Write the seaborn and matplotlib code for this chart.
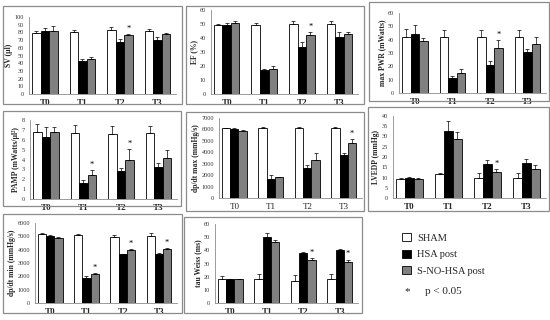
import numpy as np
import pandas as pd
import matplotlib
matplotlib.use("Agg")
import matplotlib.pyplot as plt
import seaborn as sns
from matplotlib.patches import Rectangle, Patch

sns.set_style("white")
plt.rcParams['font.family'] = ['Liberation Serif', 'DejaVu Serif']

times = ["T0", "T1", "T2", "T3"]
groups = ["SHAM", "HSA post", "S-NO-HSA post"]
colors = ["#ffffff", "#000000", "#808080"]

# values per panel: rows = groups (SHAM, HSA, S-NO-HSA), cols = T0..T3
sv_mean = [[79, 80, 83, 82], [82, 43, 68, 70], [82, 45, 76, 78]]
sv_err = [[3, 3, 4, 3], [4, 3, 3, 4], [6, 3, 2, 1]]
sv_star = [[], [], [2]]

ef_mean = [[49, 49, 50, 50], [49.5, 17, 33.5, 40.5], [51, 18, 42, 43]]
ef_err = [[1, 2, 2.5, 2], [1, 1, 4, 3.5], [1, 2, 2, 1.5]]
ef_star = [[], [], [2]]

pwr_mean = [[42, 42, 42, 42], [44, 11, 21, 31], [39, 15, 34, 37]]
pwr_err = [[6, 5, 5, 5], [7, 2, 3, 2], [2, 3, 6, 5]]
pwr_star = [[], [], [2]]

pamp_mean = [[6.8, 6.7, 6.55, 6.7], [6.3, 1.65, 2.8, 3.2], [6.8, 2.4, 4.0, 4.15]]
pamp_err = [[0.8, 0.8, 0.8, 0.7], [1.0, 0.3, 0.3, 0.4], [0.5, 0.5, 1.1, 0.8]]
pamp_star = [[], [], [1, 2]]

dpmax_mean = [[6100, 6100, 6100, 6100], [6000, 1700, 2600, 3800], [5900, 1800, 3300, 4850]]
dpmax_err = [[60, 80, 150, 150], [150, 350, 250, 150], [50, 80, 650, 300]]
dpmax_star = [[], [], [3]]

lvedp_mean = [[9.5, 11.5, 10, 10], [10, 32.5, 16.5, 17], [9.5, 29, 12.5, 14]]
lvedp_err = [[0.3, 0.5, 2, 2], [0.3, 5, 2, 2], [0.3, 3, 1.5, 2]]
lvedp_star = [[], [], [2]]

dpmin_mean = [[5200, 5100, 4950, 5050], [5050, 1900, 3650, 3700], [4900, 2200, 3950, 4050]]
dpmin_err = [[50, 100, 150, 200], [80, 100, 50, 80], [80, 80, 80, 80]]
dpmin_star = [[], [], [1, 2, 3]]

tau_mean = [[18.5, 18, 17, 18], [18, 50, 38, 40], [18, 46.5, 33, 31.5]]
tau_err = [[2, 4, 4, 4], [0.5, 3, 0.5, 1], [0.3, 1, 1, 1.5]]
tau_star = [[], [], [2, 3]]

panels = [
    dict(m=sv_mean, e=sv_err, s=sv_star, ylab="SV (µl)", ymax=100, step=10,
         ax=(29, 176, 17, 94), box=(3, 182, 6, 104), bold=True),
    dict(m=ef_mean, e=ef_err, s=ef_star, ylab="EF (%)", ymax=60, step=10,
         ax=(211, 358, 10, 94), box=(186, 364, 6, 104), bold=True),
    dict(m=pwr_mean, e=pwr_err, s=pwr_star, ylab="max PWR (mWatts)", ymax=60, step=10,
         ax=(399, 546, 13, 93), box=(369, 549, 2, 101), bold=True),
    dict(m=pamp_mean, e=pamp_err, s=pamp_star, ylab="PAMP (mWatts/µl²)", ymax=8, step=1,
         ax=(30, 177, 120, 199), box=(3, 181, 111, 206), bold=True),
    dict(m=dpmax_mean, e=dpmax_err, s=dpmax_star, ylab="dp/dt max (mmHg/s)", ymax=7000, step=1000,
         ax=(219, 362, 118, 198), box=(186, 364, 112, 211), bold=False),
    dict(m=lvedp_mean, e=lvedp_err, s=lvedp_star, ylab="LVEDP (mmHg)", ymax=40, step=5,
         ax=(393, 546, 116, 198), box=(368, 549, 107, 211), bold=True),
    dict(m=dpmin_mean, e=dpmin_err, s=dpmin_star, ylab="dp/dt min (mmHg/s)", ymax=6000, step=1000,
         ax=(35, 177, 223, 303), box=(3, 182, 214, 313), bold=True),
    dict(m=tau_mean, e=tau_err, s=tau_star, ylab="tau Weiss (ms)", ymax=60, step=10,
         ax=(215, 358, 224, 303), box=(184, 362, 217, 313), bold=True),
]

W, H = 550, 320
fig = plt.figure(figsize=(5.5, 3.2), dpi=100)

edge_gray = "#8c8c8c"

for p in panels:
    bx0, bx1, by0, by1 = p["box"]
    fig.patches.append(Rectangle((bx0 / W, 1 - by1 / H), (bx1 - bx0) / W, (by1 - by0) / H,
                                 transform=fig.transFigure, fill=False,
                                 edgecolor=edge_gray, lw=0.9))
    x0, x1, yt, yb = p["ax"]
    ax = fig.add_axes([x0 / W, 1 - yb / H, (x1 - x0) / W, (yb - yt) / H])
    rows = []
    for gi, g in enumerate(groups):
        for ti, t in enumerate(times):
            rows.append(dict(time=t, group=g, value=p["m"][gi][ti]))
    df = pd.DataFrame(rows)
    sns.barplot(data=df, x="time", y="value", hue="group", order=times,
                hue_order=groups, palette=colors, errorbar=None, width=0.68,
                edgecolor="black", linewidth=0.6, saturation=1, legend=False, ax=ax)
    bar_conts = list(ax.containers)
    for gi, cont in enumerate(bar_conts):
        xs, ys = [], []
        for bar in cont.patches:
            xs.append(bar.get_x() + bar.get_width() / 2)
            ys.append(bar.get_height())
        errs = np.array(p["e"][gi])
        ax.errorbar(xs, ys, yerr=[np.zeros(len(errs)), errs], fmt="none",
                    ecolor="black", elinewidth=0.5, capsize=1.2, capthick=0.5)
        for ti in p["s"][gi]:
            ax.text(xs[ti], ys[ti] + errs[ti] + p["ymax"] * 0.015, "*",
                    ha="center", va="bottom", fontsize=6, color="black")
    ax.set_xlim(-0.42, 3.5)
    ax.set_ylim(0, p["ymax"])
    ax.set_yticks(np.arange(0, p["ymax"] + p["step"] / 2, p["step"]))
    ax.set_yticklabels([f"{int(v)}" for v in ax.get_yticks()], fontsize=4.5, color="#333333")
    ax.set_xticks(range(4))
    ax.set_xticklabels(times, fontsize=6.5, fontweight="bold" if p["bold"] else "normal")
    ax.set_xticks([0.5, 1.5, 2.5], minor=True)
    ax.tick_params(axis="x", which="major", length=0, pad=3.5)
    ax.tick_params(axis="x", which="minor", length=2, width=0.5, color=edge_gray, direction="out")
    ax.tick_params(axis="y", length=2, width=0.5, color=edge_gray, direction="out", pad=1.5)
    ax.set_xlabel("")
    ax.set_ylabel(p["ylab"], fontsize=5.5, fontweight="bold", labelpad=1.5)
    for side in ["top", "right"]:
        ax.spines[side].set_visible(False)
    for side in ["left", "bottom"]:
        ax.spines[side].set_color(edge_gray)
        ax.spines[side].set_linewidth(0.6)
    ax.set_facecolor("white")

handles = [Patch(facecolor=c, edgecolor="black", linewidth=0.6) for c in colors]
fig.legend(handles, groups, loc="upper left", bbox_to_anchor=(402 / W, 1 - 233 / H),
           frameon=False, fontsize=7.5, handlelength=0.85, handleheight=0.85,
           handletextpad=0.6, labelspacing=0.65, borderpad=0, borderaxespad=0)
fig.text(407 / W, 1 - 292 / H, "*", fontsize=8, ha="center", va="center")
fig.text(425 / W, 1 - 292 / H, "p < 0.05", fontsize=8, ha="left", va="center")

fig.savefig("out.png", dpi=100, facecolor="white")
